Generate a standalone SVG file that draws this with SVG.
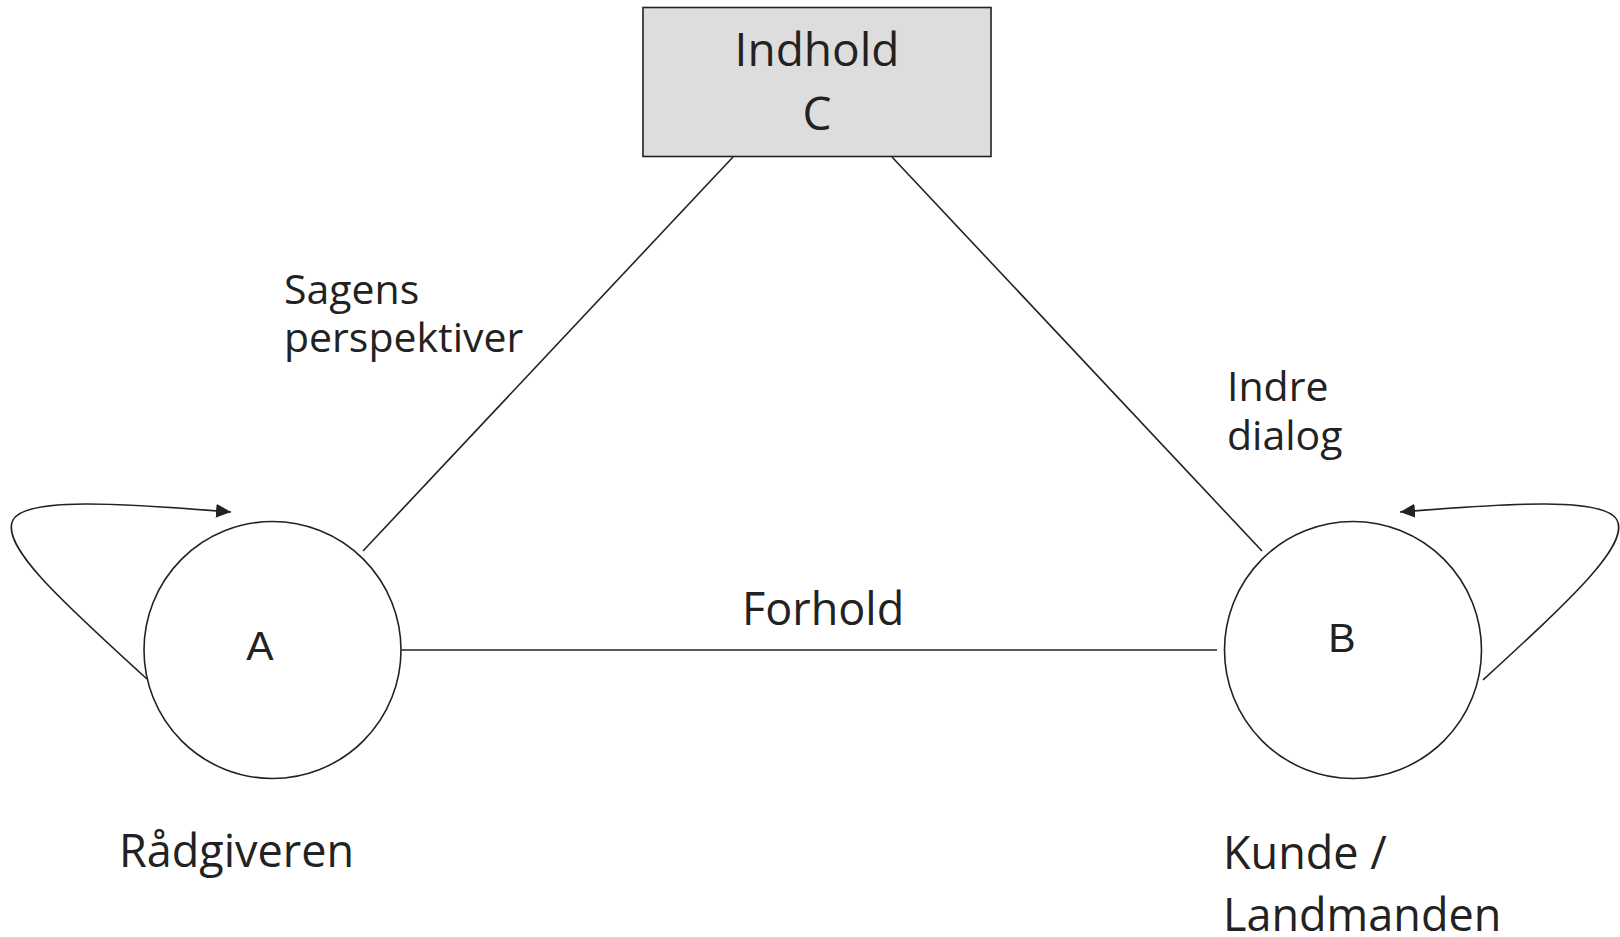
<svg xmlns="http://www.w3.org/2000/svg" width="1620" height="937" viewBox="0 0 1620 937">
<style>
.ln{fill:none;stroke:#222;stroke-width:1.6}
.nd{fill:#fff;stroke:#222;stroke-width:1.6}
.t{font-family:"Open Sans","Noto Sans",sans-serif;fill:#222}
.l{font-family:"Liberation Sans",Arial,sans-serif;fill:#222}
</style>
<defs>
<marker id="ah" markerUnits="userSpaceOnUse" markerWidth="16" markerHeight="14" refX="15" refY="7" orient="auto">
<path d="M0,0 L15,7 L0,14 z" fill="#222"/>
</marker>
</defs>
<rect width="1620" height="937" fill="#fff"/>
<g id="connectors">
<line class="ln" x1="733" y1="157" x2="363" y2="551"/>
<line class="ln" x1="892" y1="157" x2="1262" y2="551"/>
<line class="ln" x1="401" y1="650" x2="1217" y2="650"/>
<path class="ln" d="M147,679 C60,600 0,545 13,520 C25,497 120,503 231,512" marker-end="url(#ah)"/>
<path class="ln" d="M1483,680 C1570,600 1630,545 1617,520 C1605,497 1510,503 1400,512" marker-end="url(#ah)"/>
</g>
<g id="nodeC">
<rect x="643" y="7.5" width="348" height="149" fill="#dddddd" stroke="#222" stroke-width="1.6"/>
<text class="t" x="817" y="66" font-size="46" text-anchor="middle">Indhold</text>
<text class="t" x="817" y="130" font-size="46" text-anchor="middle">C</text>
</g>
<g id="nodeA">
<circle class="nd" cx="272.5" cy="650" r="128.5"/>
<text class="l" x="260" y="660" font-size="41" text-anchor="middle">A</text>
</g>
<g id="nodeB">
<circle class="nd" cx="1353" cy="650" r="128.5"/>
<text class="l" x="1342" y="652" font-size="41" text-anchor="middle">B</text>
</g>
<g id="labels">
<text class="t" x="284" y="304" font-size="41">Sagens</text>
<text class="t" x="284" y="352" font-size="41">perspektiver</text>
<text class="t" x="1227" y="401" font-size="41">Indre</text>
<text class="t" x="1227" y="450" font-size="41">dialog</text>
<text class="t" x="742" y="625" font-size="45">Forhold</text>
<text class="t" x="119" y="867" font-size="45">Rådgiveren</text>
<text class="t" x="1223" y="869" font-size="45">Kunde /</text>
<text class="t" x="1223" y="931" font-size="45">Landmanden</text>
</g>
</svg>
